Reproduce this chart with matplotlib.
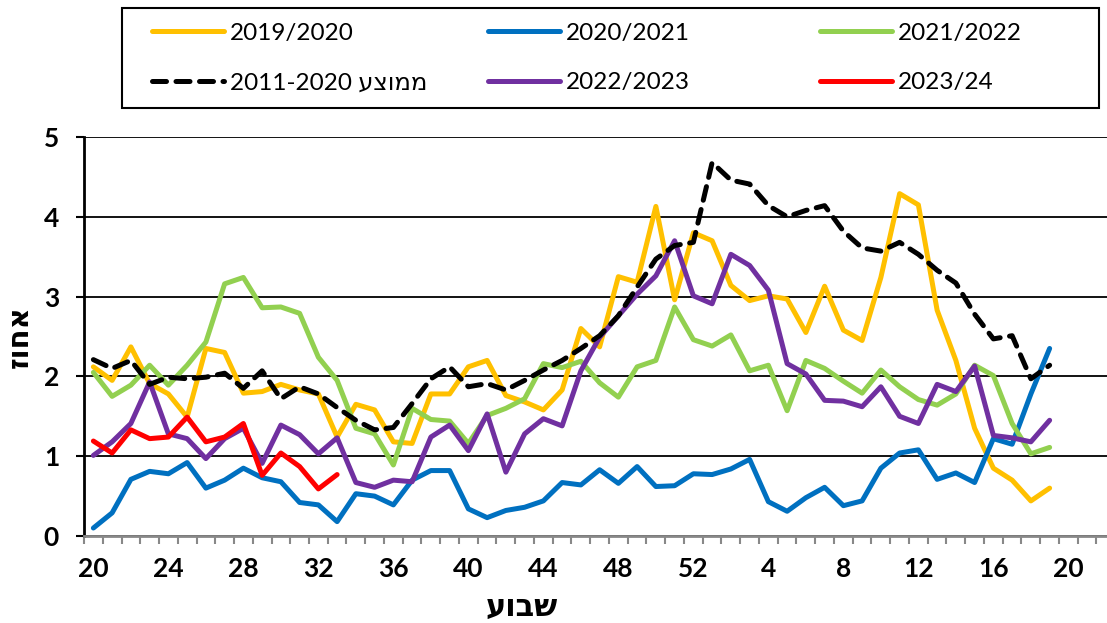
import matplotlib
matplotlib.use("Agg")
import matplotlib.pyplot as plt
from matplotlib.patches import Rectangle

# Lato has no Hebrew glyphs -> falls back to DejaVu Sans for those
plt.rcParams['font.family'] = ['Lato', 'DejaVu Sans']

# season runs from week 20 to week 19 of the next year
weeks = list(range(20, 53)) + list(range(1, 20))
tick_labels = ['20', '24', '28', '32', '36', '40', '44', '48', '52', '4', '8', '12', '16', '20']

s2019 = [2.12, 1.95, 2.37, 1.91, 1.78, 1.49, 2.35, 2.30, 1.79, 1.81,
         1.90, 1.83, 1.78, 1.24, 1.65, 1.58, 1.18, 1.16, 1.78, 1.78,
         2.12, 2.20, 1.76, 1.68, 1.58, 1.83, 2.60, 2.37, 3.25, 3.18,
         4.13, 2.96, 3.80, 3.70, 3.14, 2.95, 3.01, 2.97, 2.55, 3.13,
         2.58, 2.45, 3.24, 4.29, 4.15, 2.83, 2.20, 1.35, 0.85, 0.70,
         0.44, 0.60]
s2020 = [0.10, 0.29, 0.71, 0.81, 0.78, 0.92, 0.60, 0.70, 0.85, 0.73,
         0.68, 0.42, 0.39, 0.18, 0.53, 0.50, 0.39, 0.70, 0.82, 0.82,
         0.34, 0.23, 0.32, 0.36, 0.44, 0.67, 0.64, 0.83, 0.66, 0.87,
         0.62, 0.63, 0.78, 0.77, 0.84, 0.96, 0.43, 0.31, 0.48, 0.61,
         0.38, 0.44, 0.85, 1.04, 1.08, 0.71, 0.79, 0.67, 1.22, 1.15,
         1.78, 2.35]
s2021 = [2.05, 1.75, 1.89, 2.14, 1.89, 2.14, 2.43, 3.16, 3.24, 2.86,
         2.87, 2.79, 2.24, 1.95, 1.35, 1.28, 0.89, 1.60, 1.46, 1.44,
         1.16, 1.51, 1.60, 1.72, 2.16, 2.11, 2.19, 1.92, 1.74, 2.12,
         2.20, 2.87, 2.46, 2.38, 2.52, 2.07, 2.14, 1.57, 2.20, 2.10,
         1.94, 1.79, 2.08, 1.87, 1.71, 1.64, 1.78, 2.14, 2.01, 1.41,
         1.03, 1.11]
avg_2011_2020 = [2.21, 2.10, 2.20, 1.90, 1.99, 1.97, 1.99, 2.04, 1.85, 2.07,
                 1.72, 1.87, 1.78, 1.61, 1.45, 1.33, 1.36, 1.66, 1.97, 2.12,
                 1.87, 1.91, 1.83, 1.95, 2.08, 2.20, 2.35, 2.51, 2.76, 3.12,
                 3.47, 3.64, 3.68, 4.68, 4.46, 4.41, 4.14, 4.00, 4.08, 4.14,
                 3.82, 3.61, 3.57, 3.68, 3.53, 3.33, 3.17, 2.78, 2.47, 2.51,
                 1.97, 2.14]
s2022 = [1.01, 1.18, 1.41, 1.93, 1.28, 1.22, 0.97, 1.22, 1.35, 0.91,
         1.39, 1.27, 1.03, 1.23, 0.67, 0.61, 0.70, 0.68, 1.24, 1.39,
         1.07, 1.53, 0.80, 1.28, 1.47, 1.38, 2.07, 2.49, 2.76, 3.03,
         3.26, 3.70, 3.01, 2.91, 3.53, 3.39, 3.08, 2.16, 2.03, 1.70,
         1.69, 1.62, 1.87, 1.50, 1.41, 1.90, 1.81, 2.13, 1.26, 1.23,
         1.18, 1.45]
s2023 = [1.19, 1.04, 1.33, 1.22, 1.24, 1.49, 1.18, 1.24, 1.41, 0.76,
         1.04, 0.87, 0.59, 0.77]

W, H = 1107, 623
fig = plt.figure(figsize=(W / 100, H / 100), dpi=100)
ax = fig.add_axes([84 / W, 1 - 536 / H, (W - 84) / W, 399 / H])

LW = 3.6
style = dict(lw=LW, solid_capstyle='round', solid_joinstyle='round')

# name, values, colour, dashed?
series = [
    ("2019/2020", s2019, "#FFC000", False),
    ("2020/2021", s2020, "#0070C0", False),
    ("2021/2022", s2021, "#92D050", False),
    ("2022/2023", s2022, "#7030A0", False),
    ("2011-2020 " + "ממוצע"[::-1], avg_2011_2020, "black", True),  # reversed: matplotlib has no RTL
    ("2023/24", s2023, "#FF0000", False),
]

handles = {}
for name, vals, col, dashed in series:
    x = list(range(len(vals)))
    if dashed:
        ln, = ax.plot(x, vals, color=col, lw=LW, dashes=(2.8, 1.9),
                      dash_capstyle='round', dash_joinstyle='round', zorder=3)
    else:
        ln, = ax.plot(x, vals, color=col, zorder=3, **style)
    handles[name] = ln

ax.set_ylim(0, 5)
ax.set_xlim(-0.5, (W - 84) / 18.75 - 0.5)
ax.set_yticks(range(0, 6))
ax.grid(axis='y', color='black', lw=1.3, zorder=1)
ax.set_axisbelow(True)

ax.set_xticks(range(0, 53, 4))
ax.set_xticklabels(tick_labels)
ax.set_xticks([i - 0.5 for i in range(0, 55)], minor=True)
ax.tick_params(axis='x', which='major', length=0, pad=15, labelsize=19)
ax.tick_params(axis='x', which='minor', length=6, width=1.5, color='#888888')
ax.tick_params(axis='y', length=6, width=1.5, color='black', pad=12, labelsize=19)
for t in ax.get_xticklabels() + ax.get_yticklabels():
    t.set_fontweight('bold')

for s in ['top', 'right']:
    ax.spines[s].set_visible(False)
ax.spines['left'].set_linewidth(2)
ax.spines['left'].set_color('black')
ax.spines['bottom'].set_linewidth(2)
ax.spines['bottom'].set_color('#888888')

fig.text(522 / W, 1 - 607 / H, "שבוע"[::-1], ha='center', va='center',
         fontsize=22, fontweight='bold')
ax.set_ylabel("אחוז"[::-1], fontsize=21, fontweight='bold')
ax.yaxis.set_label_coords(-(84 - 33) / (W - 84), 0.5)

# legend box: three equal columns like the original
fig.add_artist(Rectangle((122 / W, 1 - 108 / H), (1099 - 122) / W, 100 / H,
                         transform=fig.transFigure, fill=False, ec='black', lw=1.5))
columns = [
    (152, ["2019/2020", series[4][0]]),
    (488, ["2020/2021", "2022/2023"]),
    (820, ["2021/2022", "2023/24"]),
]
for x0, names in columns:
    fig.legend([handles[n] for n in names], names, loc='center left',
               bbox_to_anchor=(x0 / W, 1 - 58 / H), frameon=False,
               fontsize=17.5, handlelength=2.95, handletextpad=0.25,
               labelspacing=1.18, borderpad=0, borderaxespad=0)

fig.savefig("out.png", dpi=100)
